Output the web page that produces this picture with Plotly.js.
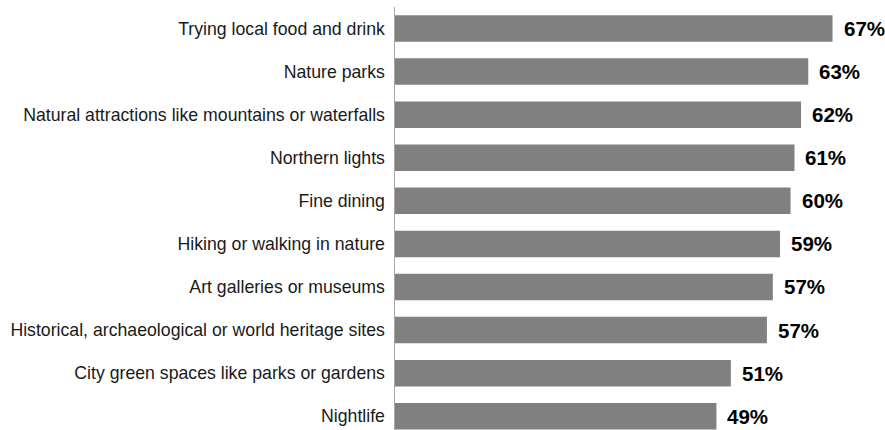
<!DOCTYPE html>
<html>
<head>
<meta charset="utf-8">
<script src="https://cdn.plot.ly/plotly-3.0.1.min.js"></script>
<style>html,body{margin:0;padding:0;background:#fff;}#chart{width:885px;height:430px;}</style>
</head>
<body>
<div id="chart"></div>
<script>
const categories = [
  "Trying local food and drink",
  "Nature parks",
  "Natural attractions like mountains or waterfalls",
  "Northern lights",
  "Fine dining",
  "Hiking or walking in nature",
  "Art galleries or museums",
  "Historical, archaeological or world heritage sites",
  "City green spaces like parks or gardens",
  "Nightlife"
];
// bar lengths (labels show rounded values)
const values = [66.7, 63.0, 61.9, 60.9, 60.3, 58.7, 57.6, 56.7, 51.2, 49.0];
const valueLabels = ["67%", "63%", "62%", "61%", "60%", "59%", "57%", "57%", "51%", "49%"];

const trace = {
  type: "bar",
  orientation: "h",
  y: categories,
  x: values,
  marker: {color: "#808080"},
  hoverinfo: "none"
};

const annotations = values.map((v, i) => ({
  x: v, y: categories[i], xref: "x", yref: "y",
  text: valueLabels[i], showarrow: false,
  xanchor: "left", xshift: 9,
  font: {family: "Liberation Sans, Arial, sans-serif", size: 20.5, color: "#000", weight: "bold"}
}));

const layout = {
  width: 885, height: 430,
  margin: {l: 395, r: 0, t: 7, b: 0},
  paper_bgcolor: "#fff", plot_bgcolor: "#fff",
  bargap: 0.385,
  showlegend: false,
  font: {family: "Liberation Sans, Arial, sans-serif", size: 17.7, color: "#1a1a1a"},
  xaxis: {range: [0, 74.7], showgrid: false, zeroline: false, showticklabels: false, showline: false, fixedrange: true},
  yaxis: {range: [9.32, -0.5], showgrid: false, zeroline: false, showline: true, linecolor: "#a6a6a6", linewidth: 1.5,
          ticks: "", ticklabelstandoff: 5, tickfont: {size: 17.7, color: "#1a1a1a"}, fixedrange: true},
  annotations: annotations
};

Plotly.newPlot("chart", [trace], layout, {displayModeBar: false, staticPlot: true});
</script>
</body>
</html>
